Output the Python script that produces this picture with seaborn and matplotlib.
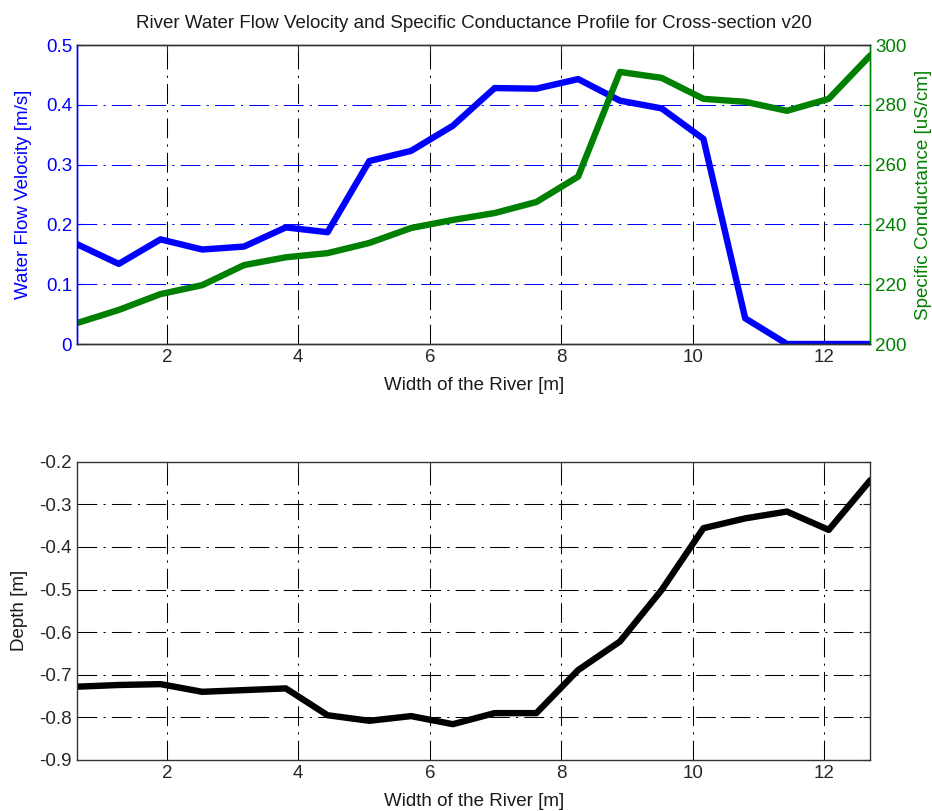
import matplotlib
matplotlib.use('Agg')
import matplotlib.pyplot as plt
import seaborn as sns
import pandas as pd

# station positions across the river [m]
width = [0.635, 1.27, 1.905, 2.54, 3.175, 3.81, 4.445, 5.08, 5.715, 6.35,
         6.985, 7.62, 8.255, 8.89, 9.525, 10.16, 10.795, 11.43, 12.065, 12.7]
velocity = [0.167, 0.134, 0.175, 0.158, 0.163, 0.195, 0.187, 0.306, 0.323, 0.365,
            0.428, 0.427, 0.443, 0.407, 0.394, 0.343, 0.043, 0.0, 0.0, 0.0]
conductance = [207, 211.4, 216.7, 219.7, 226.4, 229, 230.4, 233.8, 238.8, 241.5,
               243.8, 247.5, 256, 291, 289, 282, 281, 278, 282, 296.6]
depth = [-0.728, -0.724, -0.722, -0.74, -0.736, -0.732, -0.795, -0.808, -0.797, -0.816,
         -0.79, -0.79, -0.689, -0.622, -0.501, -0.356, -0.333, -0.317, -0.36, -0.243]

df = pd.DataFrame({'width': width, 'velocity': velocity,
                   'conductance': conductance, 'depth': depth})

sns.set_style('white')
plt.rcParams['font.family'] = ['Liberation Sans', 'DejaVu Sans']
plt.rcParams['axes.unicode_minus'] = False
plt.rcParams['font.size'] = 13.5
plt.rcParams['text.color'] = '#1a1a1a'
plt.rcParams['axes.labelcolor'] = '#1a1a1a'
plt.rcParams['xtick.color'] = '#262626'
plt.rcParams['ytick.color'] = '#262626'

BLUE = '#0000ff'
GREEN = '#008000'
SPINE = '#333333'
gridls = (0, (19, 6, 2, 6))

fig = plt.figure(figsize=(9.32, 8.11), dpi=100)
ax1 = fig.add_axes([0.0826, 0.5758, 0.8514, 0.3687])
ax2 = ax1.twinx()
ax3 = fig.add_axes([0.0826, 0.0629, 0.8514, 0.3678])

sns.lineplot(data=df, x='width', y='velocity', ax=ax1, color=BLUE, linewidth=4.6)
sns.lineplot(data=df, x='width', y='conductance', ax=ax2, color=GREEN, linewidth=4.6)
sns.lineplot(data=df, x='width', y='depth', ax=ax3, color='black', linewidth=4.6)

for ax in (ax1, ax3):
    ax.set_xlim(0.635, 12.7)
    ax.set_xticks([2, 4, 6, 8, 10, 12])
    ax.set_xlabel('Width of the River [m]', labelpad=8)
    ax.tick_params(direction='in', length=5, top=True)
    for x in [2, 4, 6, 8, 10, 12]:
        ax.axvline(x, color='black', linewidth=0.75, linestyle=gridls, zorder=0)

ax1.set_ylim(0, 0.5)
ax1.set_yticks([0, 0.1, 0.2, 0.3, 0.4, 0.5])
ax1.set_yticklabels(['0', '0.1', '0.2', '0.3', '0.4', '0.5'])
ax1.set_ylabel('Water Flow Velocity [m/s]', color=BLUE, labelpad=10)
ax1.tick_params(axis='y', colors=BLUE)
for y in [0.1, 0.2, 0.3, 0.4]:
    ax1.axhline(y, color=BLUE, linewidth=0.75, linestyle=gridls, zorder=0)
ax1.set_title('River Water Flow Velocity and Specific Conductance Profile for Cross-section v20',
              pad=12, fontsize=13.5)

ax2.set_ylim(200, 300)
ax2.set_yticks([200, 220, 240, 260, 280, 300])
ax2.set_ylabel('Specific Conductance [uS/cm]', color=GREEN, labelpad=6)
ax2.tick_params(axis='y', colors=GREEN, direction='in', length=5)
ax2.set_xlim(0.635, 12.7)

ax3.set_ylim(-0.9, -0.2)
ax3.set_yticks([-0.9, -0.8, -0.7, -0.6, -0.5, -0.4, -0.3, -0.2])
ax3.set_yticklabels(['-0.9', '-0.8', '-0.7', '-0.6', '-0.5', '-0.4', '-0.3', '-0.2'])
ax3.set_ylabel('Depth [m]', labelpad=8)
ax3.tick_params(right=True)
for y in [-0.8, -0.7, -0.6, -0.5, -0.4, -0.3]:
    ax3.axhline(y, color='black', linewidth=0.75, linestyle=gridls, zorder=0)

for ax in (ax1, ax2, ax3):
    for s in ax.spines.values():
        s.set_linewidth(1.0)
        s.set_color(SPINE)
for ax in (ax1, ax2):
    ax.spines['left'].set_color(BLUE)
    ax.spines['right'].set_color(GREEN)

fig.savefig('out.png', dpi=100)
